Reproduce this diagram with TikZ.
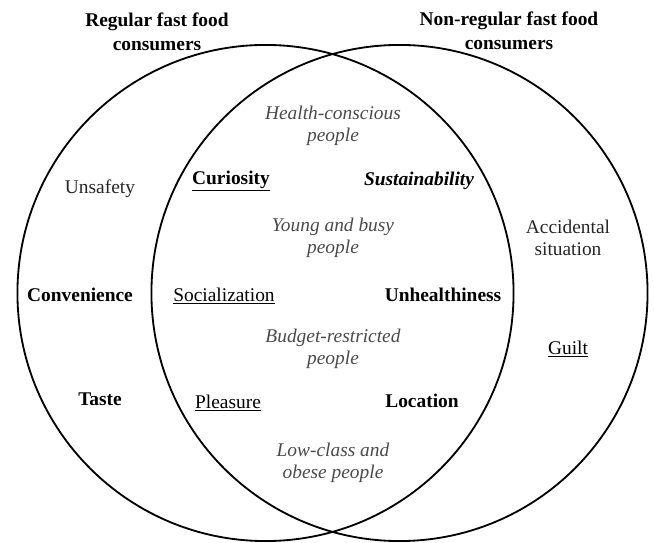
\documentclass[tikz,border=0pt]{standalone}
\usepackage{fontspec}
\setmainfont{Liberation Serif}
\definecolor{softgray}{HTML}{4A4A4A}
\begin{document}
\begin{tikzpicture}[x=0.025cm,y=-0.025cm,
  every node/.style={font=\rmfamily\fontsize{13.8}{16}\selectfont, align=center, inner sep=0pt},
  group/.style={font=\rmfamily\fontsize{13.8}{17}\selectfont\bfseries},
  strong/.style={font=\rmfamily\fontsize{13.8}{16}\selectfont\bfseries},
  strongit/.style={font=\rmfamily\fontsize{13.8}{16}\selectfont\bfseries\itshape},
  people/.style={font=\rmfamily\fontsize{13.8}{15.2}\selectfont\itshape, text=softgray},
  factor/.style={text=black!85}]
\useasboundingbox (0,0) rectangle (654,543);
% the two groups
\draw[line width=1.3pt] (265.5,293) circle[radius=6.2cm];
\draw[line width=1.3pt] (399.5,293) circle[radius=6.2cm];
\node[group] (regular) at (157,32) {Regular fast food\\consumers};
\node[group] (nonregular) at (509,31) {Non-regular fast food\\consumers};
% left part
\node[factor] (unsafety) at (100,189) {Unsafety};
\node[strong] (convenience) at (80,295) {Convenience};
\node[strong] (taste) at (100,399) {Taste};
% shared part
\node[people] (health) at (333,126) {Health-conscious\\people};
\node[strong] (curiosity) at (231,181) {\underline{Curiosity}};
\node[strongit] (sustain) at (419,181) {Sustainability};
\node[people] (young) at (333,238) {Young and busy\\people};
\node (social) at (224,296) {\underline{Socialization}};
\node[strong] (unhealthy) at (443,295) {Unhealthiness};
\node[people] (budget) at (333,349) {Budget-restricted\\people};
\node (pleasure) at (228,403) {\underline{Pleasure}};
\node[strong] (location) at (422,401) {Location};
\node[people] (lowclass) at (333,463) {Low-class and\\obese people};
% right part
\node[factor] (accident) at (568,238) {Accidental\\situation};
\node (guilt) at (568,349) {\underline{Guilt}};
\end{tikzpicture}
\end{document}
